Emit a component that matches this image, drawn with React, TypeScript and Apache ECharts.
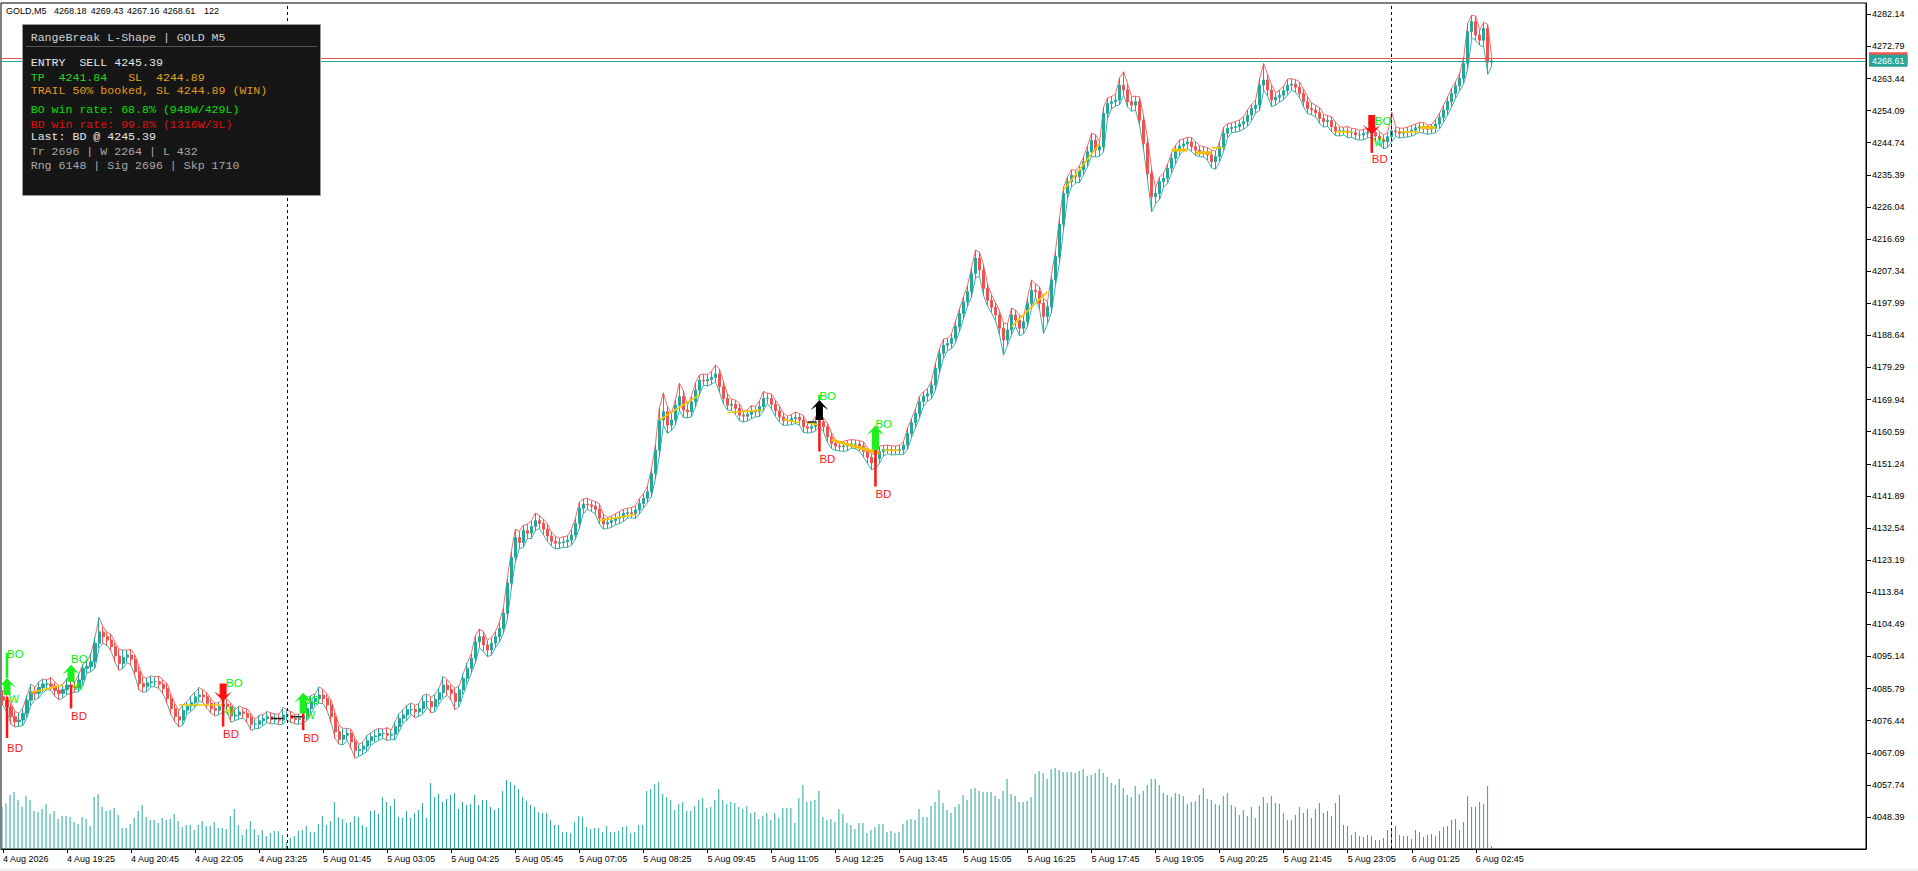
import React, { useEffect, useRef } from "react";
import * as echarts from "echarts";

// ---------------- DATA ----------------
const firstOpen = 4083.4;

const closes = [
  4082.4, 4080.5, 4077.6, 4076.1, 4076.6, 4078.6, 4082.4, 4084.9, 4084.4, 4086.1,
  4087.1, 4087.1, 4086.5, 4085.2, 4084.4, 4085.5, 4086.8, 4086.3, 4086.1, 4088.3,
  4091.7, 4092.2, 4093.6, 4099.0, 4102.3, 4100.9, 4099.9, 4098.0, 4095.3, 4093.1,
  4094.9, 4095.6, 4094.3, 4090.7, 4087.3, 4086.3, 4087.5, 4087.8, 4087.8, 4087.1,
  4085.8, 4082.9, 4080.0, 4077.6, 4076.6, 4079.5, 4080.7, 4081.7, 4083.4, 4083.9,
  4083.4, 4081.5, 4080.0, 4079.5, 4080.5, 4081.3, 4080.5, 4077.8, 4078.1, 4079.0,
  4078.6, 4077.4, 4075.4, 4075.4, 4076.4, 4077.0, 4077.6, 4076.8, 4077.1, 4076.6,
  4078.1, 4078.1, 4077.1, 4076.8, 4077.0, 4077.8, 4080.0, 4082.0, 4082.9, 4083.9,
  4082.9, 4081.0, 4077.6, 4073.2, 4071.0, 4072.2, 4072.7, 4070.3, 4067.7, 4068.1,
  4069.0, 4070.6, 4071.8, 4072.0, 4072.7, 4072.7, 4072.2, 4072.5, 4074.7, 4077.1,
  4078.1, 4079.7, 4079.7, 4079.0, 4080.0, 4082.0, 4082.0, 4080.5, 4082.6, 4084.6,
  4086.8, 4085.5, 4084.4, 4082.0, 4085.4, 4088.8, 4091.7, 4094.6, 4099.4, 4100.9,
  4098.5, 4097.0, 4099.0, 4100.9, 4103.3, 4107.7, 4116.5, 4124.0, 4129.8, 4128.3,
  4131.8, 4131.0, 4133.0, 4134.7, 4133.9, 4132.2, 4130.2, 4128.7, 4128.1, 4128.3,
  4128.5, 4129.0, 4130.5, 4133.9, 4138.3, 4139.5, 4139.3, 4138.9, 4138.0, 4135.4,
  4133.7, 4134.1, 4134.7, 4135.3, 4135.7, 4136.8, 4137.0, 4136.8, 4137.8, 4139.7,
  4141.2, 4143.1, 4148.4, 4155.2, 4164.0, 4166.4, 4162.5, 4164.0, 4168.3, 4170.8,
  4166.9, 4166.4, 4169.3, 4172.7, 4175.6, 4175.4, 4175.8, 4176.4, 4177.4, 4173.7,
  4170.3, 4168.3, 4168.6, 4167.4, 4165.4, 4165.1, 4165.7, 4166.7, 4166.4, 4167.9,
  4170.3, 4170.3, 4168.6, 4166.7, 4164.9, 4163.8, 4163.8, 4164.4, 4164.8, 4164.0,
  4162.0, 4161.6, 4162.0, 4163.5, 4163.5, 4162.0, 4159.1, 4157.2, 4156.4, 4156.2,
  4156.4, 4157.0, 4157.0, 4157.0, 4156.4, 4154.8, 4153.1, 4151.5, 4152.8, 4154.8,
  4155.4, 4155.4, 4155.2, 4155.2, 4155.4, 4156.7, 4160.1, 4163.2, 4165.9, 4169.3,
  4171.0, 4171.6, 4174.2, 4179.0, 4183.4, 4185.8, 4186.3, 4187.8, 4191.2, 4195.0,
  4198.4, 4201.4, 4206.7, 4211.1, 4207.7, 4202.3, 4198.9, 4196.8, 4194.6, 4190.7,
  4187.3, 4190.2, 4194.6, 4193.1, 4190.7, 4192.6, 4198.0, 4201.8, 4201.4, 4198.0,
  4194.1, 4197.0, 4204.8, 4211.6, 4221.0, 4230.0, 4233.4, 4235.3, 4234.8, 4236.8,
  4239.2, 4242.1, 4245.5, 4242.6, 4243.6, 4253.3, 4256.2, 4256.7, 4257.2, 4261.5,
  4260.1, 4256.7, 4255.7, 4256.7, 4251.3, 4244.5, 4235.8, 4229.0, 4230.0, 4233.4,
  4234.4, 4237.3, 4240.2, 4242.6, 4243.8, 4244.4, 4245.0, 4243.6, 4242.6, 4242.1,
  4242.1, 4241.2, 4239.2, 4240.7, 4243.6, 4247.5, 4248.9, 4249.2, 4249.4, 4250.2,
  4250.9, 4252.8, 4254.7, 4255.7, 4261.5, 4263.0, 4260.1, 4257.2, 4258.0, 4258.6,
  4259.9, 4261.5, 4261.8, 4260.9, 4259.1, 4256.7, 4254.7, 4254.3, 4253.5, 4251.8,
  4250.9, 4251.2, 4249.4, 4248.1, 4248.2, 4248.2, 4247.7, 4247.7, 4247.0, 4247.0,
  4247.5, 4247.8, 4247.7, 4246.7, 4245.7, 4245.0, 4246.5, 4248.2, 4247.9, 4247.5,
  4247.7, 4248.1, 4248.4, 4249.1, 4249.4, 4248.9, 4248.7, 4248.9, 4250.2, 4252.1,
  4254.3, 4256.7, 4259.1, 4261.3, 4263.5, 4267.9, 4277.1, 4280.0, 4276.1, 4274.6,
  4278.0, 4268.18, 4268.61,
];

const wickUp = [
  1.8,1.2,1.0,1.5,2.0,1.6,1.4,2.2,1.3,1.7,1.5,1.2,1.9,1.1,1.4,1.6,2.0,1.3,1.5,1.8,
  1.2,1.6,2.5,1.8,4.2,1.5,1.3,1.7,1.2,1.9,2.1,1.4,1.6,1.2,1.5,1.8,1.3,1.7,1.4,1.6,
  1.2,1.5,1.1,1.3,1.8,1.6,1.2,1.9,1.4,2.2,1.5,1.1,1.3,1.6,1.2,1.8,1.4,1.0,1.5,1.7,
  1.1,1.3,1.0,1.4,1.6,1.2,1.5,1.1,1.3,1.2,2.2,1.4,1.0,1.2,1.3,1.6,1.5,1.8,1.3,2.4,
  1.6,1.2,1.4,1.1,1.8,2.0,1.5,1.2,1.0,1.4,1.3,1.6,1.2,1.8,1.5,1.3,1.7,1.2,1.5,1.4,
  1.6,1.3,1.9,1.2,1.5,1.8,2.2,1.3,1.6,1.4,2.5,1.6,1.3,1.5,1.2,1.4,1.6,1.3,1.8,2.2,
  1.5,1.3,1.6,1.4,1.8,1.5,1.3,1.6,2.4,1.8,1.5,1.9,1.6,2.2,1.5,1.3,1.6,1.2,1.4,1.3,
  1.5,1.2,1.6,1.4,1.8,1.5,1.7,1.3,1.4,1.6,1.2,1.5,1.3,1.4,1.6,1.2,1.3,1.5,1.2,1.4,
  1.3,1.6,1.2,1.5,3.5,5.5,1.6,2.0,1.5,3.9,1.8,1.4,1.6,2.1,1.5,1.8,1.4,1.7,2.6,1.5,
  1.6,1.3,1.5,1.2,1.4,1.1,1.3,1.5,1.2,1.6,2.0,1.5,1.3,1.2,1.4,1.1,1.3,1.2,1.5,1.1,
  1.3,1.0,1.2,1.5,1.4,1.2,1.1,1.3,1.0,1.2,1.4,1.1,1.3,1.2,1.0,1.2,1.1,1.0,1.3,1.6,
  1.2,1.3,1.1,1.2,1.3,1.0,1.5,1.2,1.4,1.6,1.3,1.5,1.2,1.6,1.4,1.8,1.5,1.3,1.6,1.4,
  1.5,1.8,1.6,2.4,1.8,1.5,1.3,1.6,1.4,1.2,1.5,1.8,2.0,1.4,1.3,1.5,1.6,3.0,1.8,1.4,
  1.3,1.5,1.6,1.8,2.0,1.8,1.5,1.6,1.4,1.3,1.5,1.8,2.0,1.6,1.4,1.8,1.6,1.5,1.8,2.2,
  3.9,1.8,1.5,1.6,1.4,1.2,1.5,1.3,1.6,1.4,1.5,1.3,1.6,1.4,1.8,1.5,1.3,1.2,1.4,1.3,
  1.5,1.2,1.4,1.6,1.5,1.8,1.4,1.3,1.5,1.2,1.4,1.6,1.3,1.5,2.0,4.8,1.6,1.4,1.3,1.5,
  1.4,1.8,1.6,1.3,1.5,1.2,1.4,1.6,1.3,1.5,1.2,1.4,1.1,1.3,1.2,1.0,1.3,1.2,1.1,1.3,
  1.2,1.0,1.2,1.4,1.1,1.3,1.3,5.5,1.2,1.1,1.3,1.2,1.4,1.1,1.3,1.2,1.0,1.2,1.4,1.3,
  1.5,1.4,1.6,1.3,1.5,1.8,2.4,1.9,1.6,1.4,1.8,1.2,0.82,
];

const wickDown = [
  1.5,1.8,2.2,1.5,1.3,1.6,1.2,1.4,1.8,1.3,1.5,1.6,1.2,1.7,1.9,1.3,1.5,1.8,1.4,1.2,
  1.6,1.3,1.5,1.8,1.4,1.9,1.6,1.3,1.8,2.0,1.4,1.5,1.7,1.3,1.9,1.6,1.4,1.2,1.5,1.3,
  1.6,1.4,1.8,1.5,2.0,1.3,1.2,1.5,1.4,1.3,1.6,1.5,1.4,1.7,1.3,1.5,1.6,1.8,1.3,1.2,
  1.4,1.5,1.8,1.3,1.2,1.4,1.1,1.3,1.2,1.4,1.1,1.5,1.2,1.3,1.4,1.2,1.3,1.5,1.2,1.4,
  1.5,1.6,1.8,1.9,1.4,1.6,1.5,2.0,2.2,1.6,1.4,1.5,1.3,1.6,1.2,1.4,1.5,1.3,1.6,1.4,
  1.3,1.5,1.4,1.7,1.3,1.5,1.6,1.8,1.4,1.3,1.5,1.7,1.9,2.4,1.5,1.3,1.6,1.4,1.5,1.7,
  1.8,1.9,1.5,1.4,1.6,1.5,1.8,1.6,1.5,1.8,1.4,1.6,1.5,1.3,1.4,1.6,1.5,1.4,1.6,1.5,
  1.4,1.6,1.5,1.3,1.4,1.6,1.3,1.5,1.4,1.6,1.5,1.3,1.4,1.2,1.5,1.3,1.4,1.3,1.5,1.2,
  1.4,1.3,1.5,1.6,1.8,1.5,2.4,1.6,1.5,1.4,2.2,1.8,1.5,1.6,1.4,1.3,1.5,1.4,1.3,1.5,
  1.6,1.4,1.5,1.8,1.6,1.7,1.4,1.3,1.5,1.4,1.3,1.5,1.4,1.6,1.5,1.4,1.3,1.2,1.4,1.5,
  1.6,1.4,1.3,1.2,1.5,1.4,1.6,1.5,1.3,1.2,1.4,1.3,1.2,1.4,1.5,1.6,1.8,2.0,1.5,1.4,
  1.3,1.2,1.4,1.3,1.2,1.4,1.3,1.2,1.5,1.4,1.3,1.6,1.4,1.5,1.3,1.4,1.6,1.5,1.3,1.4,
  1.5,1.3,1.6,1.4,1.8,2.0,1.7,1.6,1.8,1.9,4.4,1.6,1.4,1.8,2.2,1.6,1.4,1.5,1.6,1.8,
  4.9,2.0,1.6,1.5,1.8,1.6,1.4,1.5,1.8,1.6,1.4,1.5,1.3,2.0,1.8,1.5,1.4,1.6,1.3,1.4,
  1.5,1.6,1.8,1.5,1.6,1.8,2.0,4.4,2.0,1.8,1.6,1.5,1.4,1.6,1.5,1.4,1.3,1.5,1.6,1.4,
  1.5,1.6,1.8,2.2,1.5,1.4,1.3,1.2,1.4,1.3,1.5,1.4,1.6,1.3,1.5,1.4,1.8,2.0,1.5,1.4,
  1.3,1.2,1.4,1.5,1.3,1.6,1.5,1.4,1.3,1.5,1.6,1.4,1.5,1.3,1.4,1.2,1.5,1.4,1.3,1.5,
  1.4,1.3,1.5,1.4,1.8,2.0,1.6,1.5,1.3,1.4,1.2,1.3,1.4,1.2,1.3,1.4,1.5,1.3,1.2,1.4,
  1.3,1.4,1.5,1.3,1.4,1.5,1.6,1.8,1.6,1.5,2.0,3.5,1.02,
];

const volumes = [
  1680,
  1830,2160,2280,1960,1680,2120,1960,1520,1480,1600,
  1800,1400,1520,1200,1320,1320,1280,1080,1000,1280,
  1200,920,2080,2200,1680,1520,1560,1640,1360,840,
  840,1000,1240,1520,1760,1280,1160,1160,1040,1240,
  1160,1200,1400,1120,880,960,960,760,960,1120,
  920,920,1080,840,840,800,1320,1600,960,560,
  800,1120,800,560,760,520,640,720,720,560,
  280,440,520,720,760,920,680,680,1000,1320,
  960,1120,1880,1280,1200,1040,1080,1320,1280,960,
  880,1520,1560,1400,2080,1880,1720,2000,1280,1240,
  1520,1240,1440,1560,1840,1240,2640,2080,2200,1880,
  2000,2160,2240,1600,1880,1760,1800,2160,1760,1960,
  1960,
  1680,1560,1640,2320,2760,2680,2560,2400,2080,1920,
  1760,1680,1480,1440,1440,1160,960,960,680,680,
  640,1080,1320,1280,880,800,840,840,680,920,
  680,680,720,880,920,640,680,960,960,2320,
  2400,2600,2680,2200,2080,1960,1560,1800,1880,1520,
  1520,1720,1960,
  2040,1640,1680,1960,2400,1960,1800,1880,1840,1680,
  1600,1720,1440,1480,1200,1320,1440,1160,1440,1240,
  1640,1640,1640,1040,2040,2560,1880,1920,1960,2320,
  1280,1160,1200,1080,1600,1400,1040,960,800,1040,
  1040,640,760,880,1000,1000,680,720,640,680,
  1000,1160,1200,1160,1600,1280,1280,1720,1880,2360,
  1840,1560,1440,1680,1800,2160,1960,2400,2440,2320,
  2280,2280,2280,2120,2000,2320,2800,2200,2120,1880,
  1880,
  1920,2080,3000,3120,3040,2800,3200,3240,3160,3080,
  3080,3080,3040,3120,3200,2920,2960,3040,3200,3040,
  2880,2640,2560,2800,2440,2160,2080,2520,2200,2320,
  2560,2800,2800,2560,2240,2160,2080,2240,2200,2120,
  1800,1880,1920,2160,2440,2000,1960,1800,1760,2120,
  2240,1760,1680,1360,1560,1320,1680,1240,1720,2080,
  1840,2120,1840,1800,1440,1160,1160,1360,1680,1440,
  1600,1240,1600,1840,1440,1520,1320,1840,2160,
  960,920,560,680,520,480,560,520,360,360,
  440,760,720,920,560,520,520,400,760,680,
  480,560,600,520,720,880,920,1160,1200,760,
  1080,2120,1680,1680,1880,1800,2520,122,
];

const tickLabels = [
  "4 Aug 2026", "4 Aug 19:25", "4 Aug 20:45", "4 Aug 22:05", "4 Aug 23:25",
  "5 Aug 01:45", "5 Aug 03:05", "5 Aug 04:25", "5 Aug 05:45", "5 Aug 07:05",
  "5 Aug 08:25", "5 Aug 09:45", "5 Aug 11:05", "5 Aug 12:25", "5 Aug 13:45",
  "5 Aug 15:05", "5 Aug 16:25", "5 Aug 17:45", "5 Aug 19:05", "5 Aug 20:25",
  "5 Aug 21:45", "5 Aug 23:05", "6 Aug 01:25", "6 Aug 02:45",
];

const priceTicks = [
  4282.14, 4272.79, 4263.44, 4254.09, 4244.74, 4235.39, 4226.04, 4216.69, 4207.34,
  4197.99, 4188.64, 4179.29, 4169.94, 4160.59, 4151.24, 4141.89, 4132.54, 4123.19,
  4113.84, 4104.49, 4095.14, 4085.79, 4076.44, 4067.09, 4057.74, 4048.39,
];

const bidPrice = 4268.61;
const askPrice = 4269.33;
const separatorTimes = ["5 Aug 01:00", "6 Aug 01:00"];

// [bar, dir(1 up/-1 down), colour(0 green,1 red,2 black), arrowTip, arrowBase, bdLineTop, bdLineBottom, boText, bdText, wText, greenLineTop]
const signalEvents = [
  [1, 1, 0, 4088.9, 4083.9, 4083.3, 4071.4, 4095.9, 4068.5, 4083.3, 4096.2],
  [17, 1, 0, 4092.7, 4087.8, 4086.8, 4080.0, 4094.3, 4077.9, 4087.1, 0],
  [55, -1, 1, 4082.0, 4087.3, 4082.5, 4074.7, 4087.3, 4072.5, 4079.8, 0],
  [75, 1, 0, 4084.6, 4078.6, 4078.6, 4073.7, 4082.5, 4071.5, 4078.8, 0],
  [204, 1, 2, 4169.8, 4164.0, 4164.0, 4154.8, 4171.1, 4152.6, 0, 4171.3],
  [218, 1, 0, 4162.5, 4155.3, 4155.3, 4144.6, 4162.8, 4142.4, 0, 0],
  [342, -1, 1, 4247.0, 4252.8, 4247.5, 4241.8, 4251.2, 4239.9, 4245.5, 0],
];

// [barStart, priceStart, barEnd, priceEnd, style(0 thin yellow, 1 thick yellow, 2 dark)]
const rangeSegments = [
  [7, 4084.6, 15, 4086.8, 0],
  [44, 4081.0, 55, 4081.0, 0],
  [67, 4077.1, 70, 4077.1, 2],
  [72, 4077.6, 75, 4077.6, 2],
  [149, 4134.7, 158, 4136.5, 0],
  [164, 4164.0, 174, 4171.3, 0],
  [181, 4166.1, 190, 4166.9, 0],
  [195, 4164.2, 199, 4163.2, 0],
  [201, 4163.2, 204, 4162.5, 0],
  [201, 4163.4, 203, 4163.4, 2],
  [207, 4158.2, 219, 4154.3, 1],
  [220, 4155.2, 224, 4155.2, 0],
  [252, 4191.2, 261, 4201.4, 0],
  [265, 4231.0, 274, 4244.5, 0],
  [292, 4242.6, 296, 4242.6, 1],
  [298, 4241.8, 302, 4241.8, 1],
  [302, 4243.3, 305, 4243.3, 0],
  [333, 4247.9, 337, 4247.9, 0],
  [349, 4247.9, 354, 4247.9, 0],
  [354, 4249.2, 358, 4249.2, 1],
];

const panelTitle = "RangeBreak L-Shape | GOLD M5";
const panelRows: [number, string, string][][] = [
  [[0, "ENTRY  SELL 4245.39", "#e6e6e6"]],
  [[0, "TP  4241.84", "#1edc1e"], [14, "SL  4244.89", "#e3a21a"]],
  [[0, "TRAIL 50% booked, SL 4244.89 (WIN)", "#e39a1a"]],
  [[0, "BO win rate: 68.8% (948W/429L)", "#00e000"]],
  [[0, "BD win rate: 99.8% (1316W/3L)", "#e01010"]],
  [[0, "Last: BD @ 4245.39", "#e6e6e6"]],
  [[0, "Tr 2696 | W 2264 | L 432", "#a8a8a8"]],
  [[0, "Rng 6148 | Sig 2696 | Skp 1710", "#a8a8a8"]],
];
const panelRowY = [62, 77.3, 90.7, 109, 124, 136.7, 151, 165];

// ---------------- CHART ----------------
const SANS = '"Liberation Sans", Arial, sans-serif';
const MONO = '"Liberation Mono", "DejaVu Sans Mono", monospace';
const TEAL = "#26a69a";
const RED = "#ef5350";
const TOTAL_SLOTS = 466;
const Y_MIN = 4039.07;
const Y_MAX = 4285.43;

function buildTimes(n: number) {
  const out: string[] = [];
  let day = 4;
  let mins = 18 * 60 + 5;
  for (let i = 0; i < n; i++) {
    const h = Math.floor(mins / 60);
    const m = mins % 60;
    out.push(`${day} Aug ${String(h).padStart(2, "0")}:${String(m).padStart(2, "0")}`);
    mins += 5;
    if (mins >= 24 * 60) {
      mins = 60;
      day += 1;
    }
  }
  return out;
}

function buildOption() {
  const times = buildTimes(TOTAL_SLOTS);
  const ohlc: number[][] = [];
  const highs: number[] = [];
  const lows: number[] = [];
  for (let i = 0; i < closes.length; i++) {
    const o = i === 0 ? firstOpen : closes[i - 1];
    const c = closes[i];
    const h = Math.max(o, c) + (wickUp[i] ?? 1.3);
    const l = Math.min(o, c) - (wickDown[i] ?? 1.3);
    ohlc.push([o, c, l, h]);
    highs.push(h);
    lows.push(l);
  }
  const last = ohlc[ohlc.length - 1];
  const lastVol = volumes[volumes.length - 1];

  const tickFn = (index: number) => index % 16 === 0 && index / 16 < tickLabels.length;

  const headerParts: [number, string][] = [
    [6, "GOLD,M5"],
    [54, last[0].toFixed(2)],
    [90.7, last[3].toFixed(2)],
    [127, last[2].toFixed(2)],
    [162.7, last[1].toFixed(2)],
    [204, String(lastVol)],
  ];

  const graphic: any[] = [];
  headerParts.forEach(([x, t]) => {
    graphic.push({
      type: "text", x, y: 10.7, z: 50,
      style: { text: t, fill: "#000", font: `9px ${SANS}`, align: "left", verticalAlign: "middle", textAlign: "left", textVerticalAlign: "middle" },
    });
  });
  graphic.push({
    type: "rect", z: 50,
    shape: { x: 22.5, y: 24.5, width: 298, height: 171 },
    style: { fill: "#161616", stroke: "#9a9a9a", lineWidth: 1 },
  });
  graphic.push({
    type: "line", z: 51,
    shape: { x1: 26, y1: 46.5, x2: 317, y2: 46.5 },
    style: { stroke: "#555555", lineWidth: 1 },
  });
  const charW = 6.96;
  graphic.push({
    type: "text", x: 30.7, y: 37.3, z: 52,
    style: { text: panelTitle, fill: "#d0d0d0", font: `11.6px ${MONO}`, align: "left", verticalAlign: "middle", textAlign: "left", textVerticalAlign: "middle" },
  });
  panelRows.forEach((row, ri) => {
    row.forEach(([col, t, color]) => {
      graphic.push({
        type: "text", x: 30.7 + col * charW, y: panelRowY[ri], z: 52,
        style: { text: t, fill: color, font: `11.6px ${MONO}`, align: "left", verticalAlign: "middle", textAlign: "left", textVerticalAlign: "middle" },
      });
    });
  });
  graphic.push({
    type: "rect", z: 50,
    shape: { x: 0, y: 868.5, width: 1918, height: 3 },
    style: { fill: "#f0f0f0" },
  });

  const segColors = ["#f5c800", "#f2c000", "#222222"];
  const segWidths = [1.6, 3, 1.5];

  const GREEN = "#1cf01c";
  const BDRED = "#ff1414";
  const arrowColors = [GREEN, "#ff1010", "#000000"];
  const textStyle = (t: string, x: number, y: number, fill: string, size: number) => ({
    type: "text",
    style: { text: t, x, y, fill, font: `${size}px ${SANS}`, align: "left", verticalAlign: "middle", textAlign: "left", textVerticalAlign: "middle" },
  });

  return {
    animation: false,
    backgroundColor: "#ffffff",
    graphic,
    grid: [
      { left: 0, right: 52, top: 3, bottom: 22, show: true, borderColor: "#000", borderWidth: 1, backgroundColor: "transparent" },
      { left: 0, right: 52, bottom: 22, height: 90, show: false },
    ],
    xAxis: [
      {
        type: "category", gridIndex: 0, data: times, boundaryGap: true,
        axisLine: { show: true, lineStyle: { color: "#000", width: 1 } },
        axisTick: { show: true, alignWithLabel: true, interval: tickFn, length: 4, lineStyle: { color: "#000" } },
        axisLabel: {
          show: true, interval: tickFn,
          formatter: (_v: string, i: number) => tickLabels[Math.round(i / 16)] ?? "",
          align: "left", color: "#000", fontSize: 9, fontFamily: SANS, margin: 5,
        },
        splitLine: { show: false },
      },
      { type: "category", gridIndex: 1, data: times, boundaryGap: true, show: false },
    ],
    yAxis: [
      {
        type: "value", gridIndex: 0, position: "right", min: Y_MIN, max: Y_MAX,
        axisLine: { show: true, lineStyle: { color: "#000", width: 1 } },
        axisTick: { show: true, inside: false, length: 5, customValues: priceTicks, lineStyle: { color: "#000" } },
        axisLabel: {
          show: true, customValues: priceTicks,
          formatter: (v: number) => v.toFixed(2),
          color: "#000", fontSize: 9, fontFamily: SANS, margin: 6,
        },
        splitLine: { show: false },
      },
      { type: "value", gridIndex: 1, min: 0, max: 3600, show: false },
    ],
    series: [
      {
        type: "bar", name: "volume", xAxisIndex: 1, yAxisIndex: 1, data: volumes,
        barWidth: 1, itemStyle: { color: TEAL }, z: 1, silent: true,
      },
      {
        type: "line", name: "highs", data: highs, symbol: "none", z: 2, silent: true,
        lineStyle: { color: "#f26b6b", width: 1 },
        markLine: {
          silent: true, symbol: ["none", "none"], animation: false,
          data: separatorTimes.map((t) => ({
            xAxis: t,
            lineStyle: { color: "#000", width: 1, type: [3, 3] },
            label: { show: false },
          })),
        },
      },
      {
        type: "line", name: "lows", data: lows, symbol: "none", z: 2, silent: true,
        lineStyle: { color: "#3bb3a6", width: 1 },
      },
      {
        type: "candlestick", name: "GOLD", data: ohlc, barWidth: 2.6, z: 3, silent: true,
        itemStyle: { color: TEAL, color0: RED, borderColor: TEAL, borderColor0: RED, borderWidth: 1 },
        markLine: {
          silent: true, symbol: ["none", "none"], animation: false,
          data: [
            {
              yAxis: askPrice,
              lineStyle: { color: RED, width: 1, type: "solid" },
              label: { show: true, position: "end", distance: 3, formatter: askPrice.toFixed(2), backgroundColor: RED, color: "#fff", padding: [2, 3, 1, 3], fontSize: 9, fontFamily: SANS },
            },
            {
              yAxis: bidPrice,
              lineStyle: { color: TEAL, width: 1, type: "solid" },
              label: { show: true, position: "end", distance: 3, formatter: bidPrice.toFixed(2), backgroundColor: TEAL, color: "#fff", padding: [2, 3, 1, 3], fontSize: 9, fontFamily: SANS },
            },
          ],
        },
      },
      {
        type: "custom", name: "ranges", data: rangeSegments, z: 4, silent: true, clip: false,
        encode: { x: 0, y: 1 },
        renderItem: (_p: any, api: any) => {
          const a = api.coord([api.value(0), api.value(1)]);
          const b = api.coord([api.value(2), api.value(3)]);
          const s = api.value(4);
          return {
            type: "line",
            shape: { x1: a[0], y1: a[1], x2: b[0], y2: b[1] },
            style: { stroke: segColors[s], lineWidth: segWidths[s] },
          };
        },
      },
      {
        type: "custom", name: "signals", data: signalEvents, z: 5, silent: true, clip: false,
        encode: { x: 0, y: 3 },
        renderItem: (_p: any, api: any) => {
          const bar = api.value(0);
          const dir = api.value(1);
          const ci = api.value(2);
          const tip = api.coord([bar, api.value(3)]);
          const x = tip[0];
          const yTip = tip[1];
          const yBase = api.coord([bar, api.value(4)])[1];
          const yLt = api.coord([bar, api.value(5)])[1];
          const yLb = api.coord([bar, api.value(6)])[1];
          const yBo = api.coord([bar, api.value(7)])[1];
          const yBd = api.coord([bar, api.value(8)])[1];
          const wP = api.value(9);
          const gTop = api.value(10);
          const children: any[] = [];
          if (gTop > 0) {
            const yg = api.coord([bar, gTop])[1];
            children.push({ type: "line", shape: { x1: x, y1: yg, x2: x, y2: yTip }, style: { stroke: GREEN, lineWidth: 2.5 } });
          }
          children.push({ type: "line", shape: { x1: x, y1: yLt, x2: x, y2: yLb }, style: { stroke: BDRED, lineWidth: 2.5 } });
          children.push(textStyle("BO", x + (dir > 0 ? 0 : 3), yBo, "#00f000", 11.5));
          children.push(textStyle("BD", x, yBd, "#ff1a1a", 11.5));
          if (wP > 0) children.push(textStyle("W", x + 2, api.coord([bar, wP])[1] + 2, "#00f000", 10.5));
          const s = dir > 0 ? 1 : -1;
          const pts = [
            [x, yTip],
            [x + 9, yTip + 10 * s],
            [x + 3.5, yTip + 6.5 * s],
            [x + 3.5, yBase],
            [x - 3.5, yBase],
            [x - 3.5, yTip + 6.5 * s],
            [x - 9, yTip + 10 * s],
          ];
          children.push({ type: "polygon", shape: { points: pts }, style: { fill: arrowColors[ci] } });
          return { type: "group", children };
        },
      },
    ],
  };
}

export default function App() {
  const ref = useRef<HTMLDivElement>(null);
  useEffect(() => {
    document.body.style.margin = "0";
    document.body.style.overflow = "hidden";
    const chart = echarts.init(ref.current as HTMLDivElement, null, { renderer: "svg" });
    chart.setOption(buildOption() as any);
    return () => chart.dispose();
  }, []);
  return <div ref={ref} style={{ width: 1918, height: 871 }} />;
}
